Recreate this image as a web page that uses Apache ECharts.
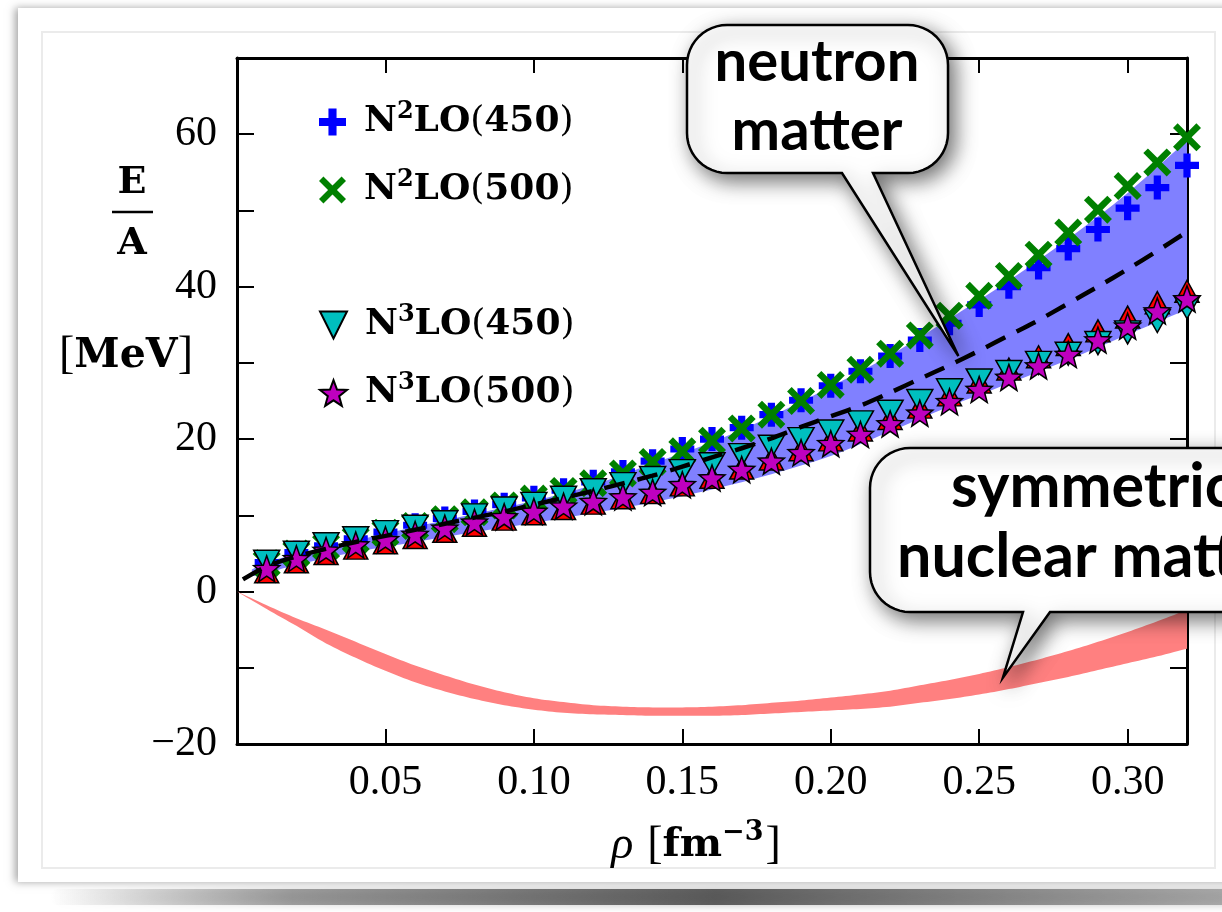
<!DOCTYPE html>
<html>
<head>
<meta charset="utf-8">
<script src="https://cdn.jsdelivr.net/npm/echarts@6/dist/echarts.min.js"></script>
<style>
  html, body { margin: 0; padding: 0; background: #ffffff; }
  #chart { width: 1222px; height: 912px; }
</style>
</head>
<body>
<div id="chart"></div>
<script>
// Density grid of the many-body calculations (fm^-3)
const rho = [0.01, 0.02, 0.03, 0.04, 0.05, 0.06, 0.07, 0.08, 0.09, 0.10,
             0.11, 0.12, 0.13, 0.14, 0.15, 0.16, 0.17, 0.18, 0.19, 0.20,
             0.21, 0.22, 0.23, 0.24, 0.25, 0.26, 0.27, 0.28, 0.29, 0.30,
             0.31, 0.32];

// Neutron-matter energy per particle (MeV)
const n2lo450 = [3.8, 5.1, 6.0, 6.9, 7.8, 8.7, 9.6, 10.5, 11.4, 12.3,
                 13.3, 14.4, 15.7, 17.1, 18.7, 20.0, 21.5, 23.2, 25.1, 27.0,
                 28.9, 30.9, 33.0, 35.2, 37.6, 40.0, 42.5, 45.0, 47.5, 50.3,
                 53.0, 55.9];
const n2lo500 = [3.7, 5.0, 5.9, 6.8, 7.7, 8.6, 9.5, 10.4, 11.3, 12.2,
                 13.2, 14.2, 15.5, 17.0, 18.4, 19.8, 21.4, 23.2, 25.0, 27.1,
                 29.1, 31.2, 33.6, 36.2, 38.8, 41.4, 44.2, 47.1, 50.1, 53.2,
                 56.3, 59.6];
const n3lo450 = [3.9, 5.1, 6.2, 7.0, 7.8, 8.5, 9.1, 10.0, 10.9, 11.5,
                 12.3, 13.3, 14.1, 14.9, 15.8, 16.7, 17.9, 19.0, 20.0, 21.0,
                 22.2, 23.6, 25.0, 26.4, 27.7, 28.8, 30.0, 31.2, 32.6, 34.0,
                 35.5, 37.3];
const n3lo500 = [3.0, 4.3, 5.4, 6.1, 6.8, 7.5, 8.3, 9.1, 9.8, 10.5,
                 11.2, 11.8, 12.4, 13.0, 14.0, 14.9, 16.0, 17.1, 18.2, 19.4,
                 20.6, 22.0, 23.4, 24.9, 26.5, 28.1, 29.6, 31.1, 33.0, 34.8,
                 36.8, 38.4];
// Extra N3LO points drawn underneath the stars (no legend entry)
const n3loExtra = [2.6, 3.9, 5.0, 5.7, 6.4, 7.1, 7.9, 8.7, 9.5, 10.2,
                   10.9, 11.6, 12.3, 13.0, 14.0, 15.0, 16.2, 17.4, 18.6, 19.9,
                   21.2, 22.7, 24.2, 25.8, 27.5, 29.2, 30.8, 32.4, 34.2, 36.0,
                   37.9, 39.4];

// Dashed reference curve
const refRho = [0.002, 0.01, 0.02, 0.03, 0.04, 0.05, 0.06, 0.07, 0.08, 0.09, 0.10,
                0.11, 0.12, 0.13, 0.14, 0.15, 0.16, 0.17, 0.18, 0.19, 0.20,
                0.21, 0.22, 0.23, 0.24, 0.25, 0.26, 0.27, 0.28, 0.29, 0.30,
                0.31, 0.32];
const refE = [1.6, 3.3, 4.6, 5.6, 6.5, 7.3, 8.1, 8.9, 9.7, 10.5, 11.4,
              12.3, 13.2, 14.2, 15.2, 16.4, 17.6, 18.8, 20.1, 21.6, 23.0,
              24.4, 26.1, 27.9, 29.7, 31.6, 33.6, 35.6, 37.8, 40.0, 42.3,
              44.7, 47.2];

// Neutron-matter uncertainty band
const nmRho  = [0.005, 0.01, 0.02, 0.04, 0.06, 0.08, 0.10, 0.12, 0.14, 0.16,
                0.18, 0.20, 0.22, 0.24, 0.26, 0.28, 0.30, 0.32];
const nmLow  = [2.0, 2.4, 3.5, 5.2, 6.5, 7.8, 9.0, 10.3, 11.7, 13.4,
                15.4, 17.8, 21.0, 24.3, 27.3, 30.4, 33.7, 37.0];
const nmHigh = [2.9, 3.8, 4.9, 6.7, 8.5, 10.2, 11.9, 14.0, 16.8, 19.6,
                23.0, 26.9, 31.0, 35.8, 40.8, 46.3, 52.3, 59.2];

// Symmetric-nuclear-matter band
const snmRho  = [0.00, 0.01, 0.02, 0.03, 0.04, 0.05, 0.06, 0.07, 0.08, 0.09, 0.10,
                 0.11, 0.12, 0.13, 0.14, 0.15, 0.16, 0.17, 0.18, 0.19, 0.20,
                 0.21, 0.22, 0.23, 0.24, 0.25, 0.26, 0.27, 0.28, 0.29, 0.30,
                 0.31, 0.32];
const snmHigh = [0, -1.8, -3.5, -5.0, -6.6, -8.2, -9.7, -11.0, -12.2, -13.2, -14.0,
                 -14.5, -14.9, -15.1, -15.2, -15.2, -15.1, -14.9, -14.6, -14.3, -13.9,
                 -13.5, -13.0, -12.3, -11.6, -10.8, -9.9, -8.9, -7.8, -6.6, -5.3,
                 -3.9, -2.4];
const snmLow  = [0, -2.3, -4.5, -6.8, -8.7, -10.4, -11.9, -13.1, -14.1, -14.9, -15.5,
                 -15.9, -16.1, -16.2, -16.3, -16.3, -16.3, -16.2, -16.0, -15.8, -15.6,
                 -15.4, -15.1, -14.6, -14.1, -13.5, -12.8, -12.0, -11.2, -10.3, -9.4,
                 -8.5, -7.5];

// Axis ticks
const xTicks = { min: 0, max: 0.32, step: 0.05 };
const yTicks = { min: -20, max: 70, step: 10, labelStep: 20 };

// Callout anchors (data coordinates)
const neutronTip = [0.243, 30.9];
const snmTip = [0.258, -11.3];

// ---------------------------------------------------------------------------
const pairs = (xs, ys) => xs.map((x, i) => [x, ys[i]]);

// Catmull-Rom curve through pixel points, used for the band outlines
function spline(pts, n) {
  const out = [];
  for (let i = 0; i < pts.length - 1; i++) {
    const p0 = pts[Math.max(i - 1, 0)], p1 = pts[i], p2 = pts[i + 1], p3 = pts[Math.min(i + 2, pts.length - 1)];
    for (let k = 0; k < n; k++) {
      const t = k / n, t2 = t * t, t3 = t2 * t;
      const f = (a, b, c, d) => 0.5 * ((2 * b) + (-a + c) * t + (2 * a - 5 * b + 4 * c - d) * t2 + (-a + 3 * b - 3 * c + d) * t3);
      out.push([f(p0[0], p1[0], p2[0], p3[0]), f(p0[1], p1[1], p2[1], p3[1])]);
    }
  }
  out.push(pts[pts.length - 1]);
  return out;
}

function bandSeries(name, xs, lo, hi, color) {
  return {
    type: 'custom', name: name, silent: true, clip: true,
    data: xs.map((x, i) => [x, lo[i], hi[i]]),
    encode: { x: 0, y: [1, 2] },
    renderItem: (params, api) => {
      if (params.dataIndex !== 0) return null;
      const up = spline(xs.map((x, i) => api.coord([x, hi[i]])), 8);
      const dn = spline(xs.map((x, i) => api.coord([x, lo[i]])), 8).reverse();
      return { type: 'polygon', shape: { points: up.concat(dn) }, style: { fill: color } };
    }
  };
}

// Marker shapes
const plusPath = 'path://M-0.3,-1L0.3,-1L0.3,-0.3L1,-0.3L1,0.3L0.3,0.3L0.3,1L-0.3,1L-0.3,0.3L-1,0.3L-1,-0.3L-0.3,-0.3Z';
const crossPath = 'path://M-1,-0.67L-0.67,-1L0,-0.33L0.67,-1L1,-0.67L0.33,0L1,0.67L0.67,1L0,0.33L-0.67,1L-1,0.67L-0.33,0Z';
const triDownPath = 'path://M-1,-1L1,-1L0,1Z';
const triUpPath = 'path://M0,-1L1,1L-1,1Z';
const starPath = (() => {
  let d = '';
  for (let k = 0; k < 10; k++) {
    const r = k % 2 === 0 ? 1 : 0.42;
    const a = -Math.PI / 2 + k * Math.PI / 5;
    d += (k === 0 ? 'M' : 'L') + (r * Math.cos(a)).toFixed(4) + ',' + (r * Math.sin(a)).toFixed(4);
  }
  return 'path://' + d + 'Z';
})();

const SERIF = 'Liberation Serif';
const BOLDSERIF = 'DejaVu Serif';
const SANS = 'Lato';

const chart = echarts.init(document.getElementById('chart'), null, { renderer: 'canvas' });

const legendRich = {
  b: { fontFamily: BOLDSERIF, fontWeight: 'bold', fontSize: 36, color: '#000' },
  s: { fontFamily: BOLDSERIF, fontWeight: 'bold', fontSize: 24, color: '#000', padding: [0, 0, 20, 0] },
  p: { fontFamily: BOLDSERIF, fontWeight: 'normal', fontSize: 36, color: '#000' }
};
const legendFormatter = name => {
  const m = name.match(/^N(.)LO\((\d+)\)$/);
  const order = m[1] === '\u00b2' ? '2' : '3';
  return '{b|N}{s|' + order + '}{b|LO}{p|(}{b|' + m[2] + '}{p|)}';
};
const legendItem = (name, top) => ({
  orient: 'vertical',
  left: 314,
  top: top,
  itemWidth: 27,
  itemHeight: 27,
  textStyle: { padding: [0, 0, 0, 13], rich: legendRich },
  formatter: legendFormatter,
  selectedMode: false,
  data: [name]
});

const axisCommonX = {
  type: 'value',
  min: xTicks.min, max: xTicks.max, interval: xTicks.step,
  axisLine: { show: true, onZero: false, lineStyle: { color: '#000', width: 3 } },
  axisTick: { show: true, inside: true, length: 15, lineStyle: { color: '#000', width: 2 } },
  splitLine: { show: false }
};
const axisCommonY = {
  type: 'value',
  min: yTicks.min, max: yTicks.max, interval: yTicks.step,
  axisLine: { show: true, onZero: false, lineStyle: { color: '#000', width: 3 } },
  axisTick: { show: true, inside: true, length: 17, lineStyle: { color: '#000', width: 2 } },
  splitLine: { show: false }
};

const option = {
  backgroundColor: 'transparent',
  animation: false,
  grid: { left: 237, top: 58, right: 35, bottom: 168, containLabel: false },
  xAxis: [
    Object.assign({}, axisCommonX, {
      position: 'bottom',
      axisLabel: {
        show: true, margin: 18, color: '#000', fontFamily: SERIF, fontSize: 42,
        showMinLabel: false,
        formatter: v => (v === 0 ? '' : v.toFixed(2))
      }
    }),
    Object.assign({}, axisCommonX, { position: 'top', axisLabel: { show: false } })
  ],
  yAxis: [
    Object.assign({}, axisCommonY, {
      position: 'left',
      axisLabel: {
        show: true, margin: 20, color: '#000', fontFamily: SERIF, fontSize: 42,
        formatter: v => {
          if (v % yTicks.labelStep !== 0 || v === yTicks.max) return '';
          return v < 0 ? '\u2212' + Math.abs(v) : String(v);
        }
      }
    }),
    Object.assign({}, axisCommonY, { position: 'right', axisLabel: { show: false } })
  ],
  legend: [
    legendItem('N\u00b2LO(450)', 95),
    legendItem('N\u00b2LO(500)', 163),
    legendItem('N\u00b3LO(450)', 298),
    legendItem('N\u00b3LO(500)', 366)
  ],
  series: [
    bandSeries('neutron matter', nmRho, nmLow, nmHigh, '#8080ff'),
    bandSeries('symmetric nuclear matter', snmRho, snmLow, snmHigh, '#ff8080'),
    {
      type: 'line', name: 'reference', data: pairs(refRho, refE), smooth: 0.3,
      symbol: 'none', lineStyle: { color: '#000', width: 4.5, type: [21, 13] }, silent: true
    },
    {
      type: 'scatter', name: 'N\u00b2LO(450)', data: pairs(rho, n2lo450),
      symbol: plusPath, symbolSize: 24,
      itemStyle: { color: '#0000ff', borderWidth: 0, opacity: 1 }
    },
    {
      type: 'scatter', name: 'N\u00b2LO(500)', data: pairs(rho, n2lo500),
      symbol: crossPath, symbolSize: 28,
      itemStyle: { color: '#008000', borderWidth: 0, opacity: 1 }
    },
    {
      type: 'scatter', name: 'extra', data: pairs(rho, n3loExtra),
      symbol: triUpPath, symbolSize: [24, 22],
      itemStyle: { color: '#ff0000', borderColor: '#000', borderWidth: 1.5, opacity: 1 }
    },
    {
      type: 'scatter', name: 'N\u00b3LO(450)', data: pairs(rho, n3lo450),
      symbol: triDownPath, symbolSize: [26, 23],
      itemStyle: { color: '#00bfbf', borderColor: '#000', borderWidth: 1.5, opacity: 1 }
    },
    {
      type: 'scatter', name: 'N\u00b3LO(500)', data: pairs(rho, n3lo500),
      symbol: starPath, symbolSize: 26,
      itemStyle: { color: '#bf00bf', borderColor: '#000', borderWidth: 1.5, opacity: 1 }
    }
  ]
};

chart.setOption(option);

// ---------------------------------------------------------------------------
// Decorations: card frame, axis titles and the two speech-bubble callouts.
function bubblePoints(x0, y0, x1, y1, r, b1, b2, tip) {
  const pts = [];
  const arc = (cx, cy, a0, a1) => {
    const n = 12;
    for (let i = 0; i <= n; i++) {
      const a = a0 + (a1 - a0) * i / n;
      pts.push([cx + r * Math.cos(a), cy + r * Math.sin(a)]);
    }
  };
  arc(x1 - r, y0 + r, -Math.PI / 2, 0);
  arc(x1 - r, y1 - r, 0, Math.PI / 2);
  pts.push([b2, y1], tip, [b1, y1]);
  arc(x0 + r, y1 - r, Math.PI / 2, Math.PI);
  arc(x0 + r, y0 + r, Math.PI, Math.PI * 1.5);
  return pts;
}

const toPx = p => chart.convertToPixel({ gridIndex: 0 }, p);
const nTip = toPx(neutronTip);
const sTip = toPx(snmTip);

const bubbleStyle = {
  fill: '#ffffff', stroke: '#000000', lineWidth: 2.5,
  shadowBlur: 20, shadowOffsetX: 6, shadowOffsetY: 7, shadowColor: 'rgba(0,0,0,0.55)'
};
const calloutFont = size => ({ fontFamily: SANS, fontWeight: 'bold', fontSize: size, fill: '#000' });

const graphics = [
  // bottom curl shadow
  {
    type: 'rect', z: -20, silent: true,
    shape: { x: 50, y: 889, width: 1210, height: 16, r: 8 },
    style: {
      fill: new echarts.graphic.LinearGradient(0, 0, 1, 0, [
        { offset: 0, color: 'rgba(80,80,80,0)' },
        { offset: 0.2, color: 'rgba(80,80,80,0.5)' },
        { offset: 0.55, color: 'rgba(70,70,70,0.85)' },
        { offset: 1, color: 'rgba(150,150,150,0.7)' }
      ]),
      shadowBlur: 8, shadowColor: 'rgba(0,0,0,0.3)'
    }
  },
  // outer card with its left-side shade
  {
    type: 'rect', z: -15, silent: true,
    shape: { x: 18, y: 8, width: 1240, height: 874 },
    style: { fill: '#ffffff', shadowBlur: 8, shadowOffsetX: -3, shadowOffsetY: 0, shadowColor: 'rgba(0,0,0,0.35)' }
  },
  // inner card border
  {
    type: 'rect', z: -14, silent: true,
    shape: { x: 42, y: 32, width: 1173, height: 836 },
    style: { fill: '#ffffff', stroke: '#ebebeb', lineWidth: 2 }
  },
  // y-axis title: E / A over [MeV]
  {
    type: 'text', z: 5, silent: true, x: 132, y: 183,
    style: { text: 'E', fontFamily: BOLDSERIF, fontWeight: 'bold', fontSize: 38, fill: '#000', align: 'center', verticalAlign: 'middle' }
  },
  {
    type: 'line', z: 5, silent: true,
    shape: { x1: 112, y1: 212, x2: 153, y2: 212 },
    style: { stroke: '#000', lineWidth: 2.5 }
  },
  {
    type: 'text', z: 5, silent: true, x: 132, y: 244,
    style: { text: 'A', fontFamily: BOLDSERIF, fontWeight: 'bold', fontSize: 38, fill: '#000', align: 'center', verticalAlign: 'middle' }
  },
  {
    type: 'text', z: 5, silent: true, x: 126, y: 356,
    style: {
      text: '{n|[}{b|MeV}{n|]}', align: 'center', verticalAlign: 'middle',
      rich: {
        n: { fontFamily: SERIF, fontWeight: 'normal', fontSize: 46, color: '#000' },
        b: { fontFamily: BOLDSERIF, fontWeight: 'bold', fontSize: 41, color: '#000' }
      }
    }
  },
  // x-axis title: rho [fm^-3]
  {
    type: 'text', z: 5, silent: true, x: 696, y: 846,
    style: {
      text: '{i|\u03c1}{sp|}{n|[}{b|fm}{s|\u22123}{n|]}', align: 'center', verticalAlign: 'middle',
      rich: {
        i: { fontFamily: SERIF, fontStyle: 'italic', fontSize: 46, color: '#000' },
        sp: { width: 14 },
        n: { fontFamily: SERIF, fontSize: 46, color: '#000' },
        b: { fontFamily: BOLDSERIF, fontWeight: 'bold', fontSize: 40, color: '#000' },
        s: { fontFamily: BOLDSERIF, fontWeight: 'bold', fontSize: 27, color: '#000', padding: [0, 2, 26, 0] }
      }
    }
  },
  // neutron-matter callout
  {
    type: 'polygon', z: 100, silent: true,
    shape: { points: bubblePoints(687, 25, 948, 173, 40, 842, 873, nTip) },
    style: bubbleStyle
  },
  {
    type: 'text', z: 101, silent: true, x: 817, y: 62,
    style: Object.assign({ text: 'neutron', align: 'center', verticalAlign: 'middle' }, calloutFont(58))
  },
  {
    type: 'text', z: 101, silent: true, x: 817, y: 131,
    style: Object.assign({ text: 'matter', align: 'center', verticalAlign: 'middle' }, calloutFont(58))
  },
  // symmetric-nuclear-matter callout
  {
    type: 'polygon', z: 100, silent: true,
    shape: { points: bubblePoints(870, 448, 1320, 612, 40, 1023, 1050, sTip) },
    style: bubbleStyle
  },
  {
    type: 'text', z: 101, silent: true, x: 951, y: 487,
    style: Object.assign({ text: 'symmetric', align: 'left', verticalAlign: 'middle' }, calloutFont(61))
  },
  {
    type: 'text', z: 101, silent: true, x: 897, y: 557,
    style: Object.assign({ text: 'nuclear matter', align: 'left', verticalAlign: 'middle' }, calloutFont(61))
  }
];

chart.setOption({ graphic: { elements: graphics } });
</script>
</body>
</html>
